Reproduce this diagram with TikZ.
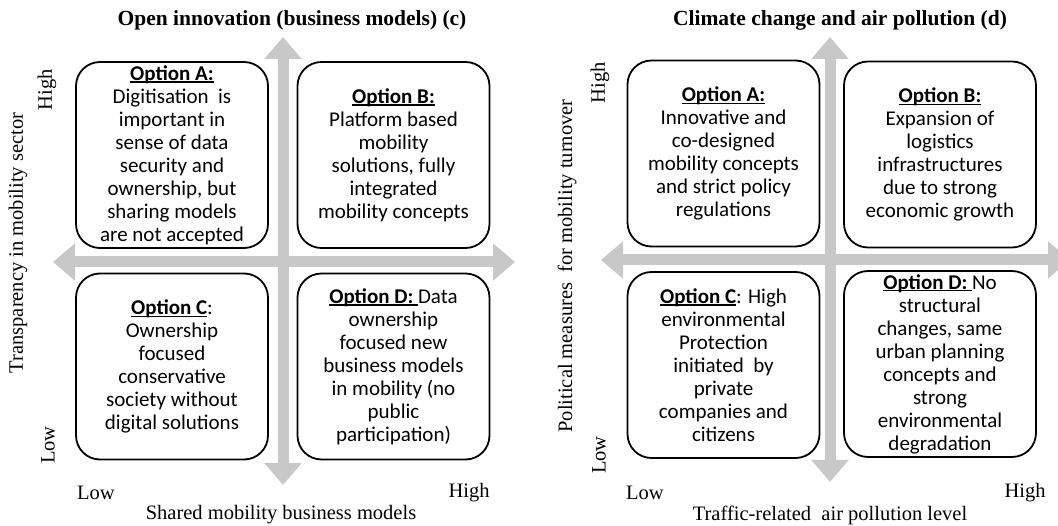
\documentclass[tikz,border=0pt]{standalone}
\usepackage{fontspec}
\setmainfont{Liberation Serif}
\newfontfamily\calfont{Carlito}
\usetikzlibrary{arrows.meta}
\definecolor{axisgray}{RGB}{200,200,200}
\tikzset{
  axis/.style={draw=axisgray, line width=11pt,
    {Triangle[width=36pt,length=22pt]}-{Triangle[width=36pt,length=22pt]}},
  optbox/.style={draw, line width=1.8pt, fill=white, rounded corners=24pt,
    minimum width=192pt, minimum height=186pt, align=center, inner sep=0pt,
    font=\calfont\fontsize{21}{23}\selectfont},
  ttl/.style={font=\bfseries\fontsize{21.5}{24}\selectfont, inner sep=0pt},
  lbl/.style={font=\fontsize{20.5}{23}\selectfont, inner sep=0pt},
}
\newsavebox{\optbx}
\newcommand{\opt}[1]{\sbox{\optbx}{\textbf{#1}}\rlap{\rule[-2.4pt]{\wd\optbx}{1.3pt}}\usebox{\optbx}}
\begin{document}
\begin{tikzpicture}[x=1pt,y=-1pt]
\clip (0,0) rectangle (1058,526);
\fill[white] (0,0) rectangle (1058,526);

% ---------- left panel ----------
\node[ttl] (t1) at (292,20) {Open innovation (business models) (c)};
\coordinate (l1L) at (53,262);
\coordinate (l1R) at (515,262);
\coordinate (l1T) at (283,37);
\coordinate (l1B) at (283,485);
\draw[axis] (l1L) -- (l1R);
\draw[axis] (l1T) -- (l1B);

\node[optbox] (lA) at (172,155) {\opt{Option A:}\\Digitisation\ \ is\\important in\\sense of data\\security and\\ownership, but\\sharing models\\are not accepted};
\node[optbox] (lB) at (393.5,155) {\opt{Option B:}\\Platform based\\mobility\\solutions, fully\\integrated\\mobility concepts};
\node[optbox] (lC) at (172,366.5) {\opt{Option C}:\\Ownership\\focused\\conservative\\society without\\digital solutions};
\node[optbox] (lD) at (393.5,366.5) {\opt{Option D:\ }Data\\ownership\\focused new\\business models\\in mobility (no\\public\\participation)};

\node[lbl, rotate=90] (ly) at (18,243) {Transparency in mobility sector};
\node[lbl, rotate=90] (lyh) at (47,90) {High};
\node[lbl, rotate=90] (lyl) at (48,445) {Low};
\node[lbl] (lxl) at (96,493) {Low};
\node[lbl] (lxh) at (469,493) {High};
\node[lbl] (lx) at (281,515) {Shared mobility business models};

% ---------- right panel ----------
\node[ttl] (t2) at (840,20) {Climate change and air pollution (d)};
\coordinate (r1L) at (601,260);
\coordinate (r1R) at (1070,260);
\coordinate (r1T) at (830,37);
\coordinate (r1B) at (830,482);
\draw[axis] (r1L) -- (r1R);
\draw[axis] (r1T) -- (r1B);

\node[optbox] (rA) at (723.5,153.5) {\opt{Option A:}\\Innovative and\\co-designed\\mobility concepts\\and strict policy\\regulations};
\node[optbox] (rB) at (940,154.5) {\opt{Option B:}\\Expansion of\\logistics\\infrastructures\\due to strong\\economic growth};
\node[optbox] (rC) at (723.5,365) {\opt{Option C}: High\\environmental\\Protection\\initiated\ \ by\\private\\companies and\\citizens};
\node[optbox] (rD) at (940,364) {\opt{Option D:\ }No\\structural\\changes, same\\urban planning\\concepts and\\strong\\environmental\\degradation};

\node[lbl, rotate=90] (ry) at (567,266) {Political measures\ \ for mobility turnover};
\node[lbl, rotate=90] (ryh) at (600,83) {High};
\node[lbl, rotate=90] (ryl) at (599,455) {Low};
\node[lbl] (rxl) at (645,493) {Low};
\node[lbl] (rxh) at (1025,493) {High};
\node[lbl] (rx) at (830,515) {Traffic-related\ \ air pollution level};
\end{tikzpicture}
\end{document}
